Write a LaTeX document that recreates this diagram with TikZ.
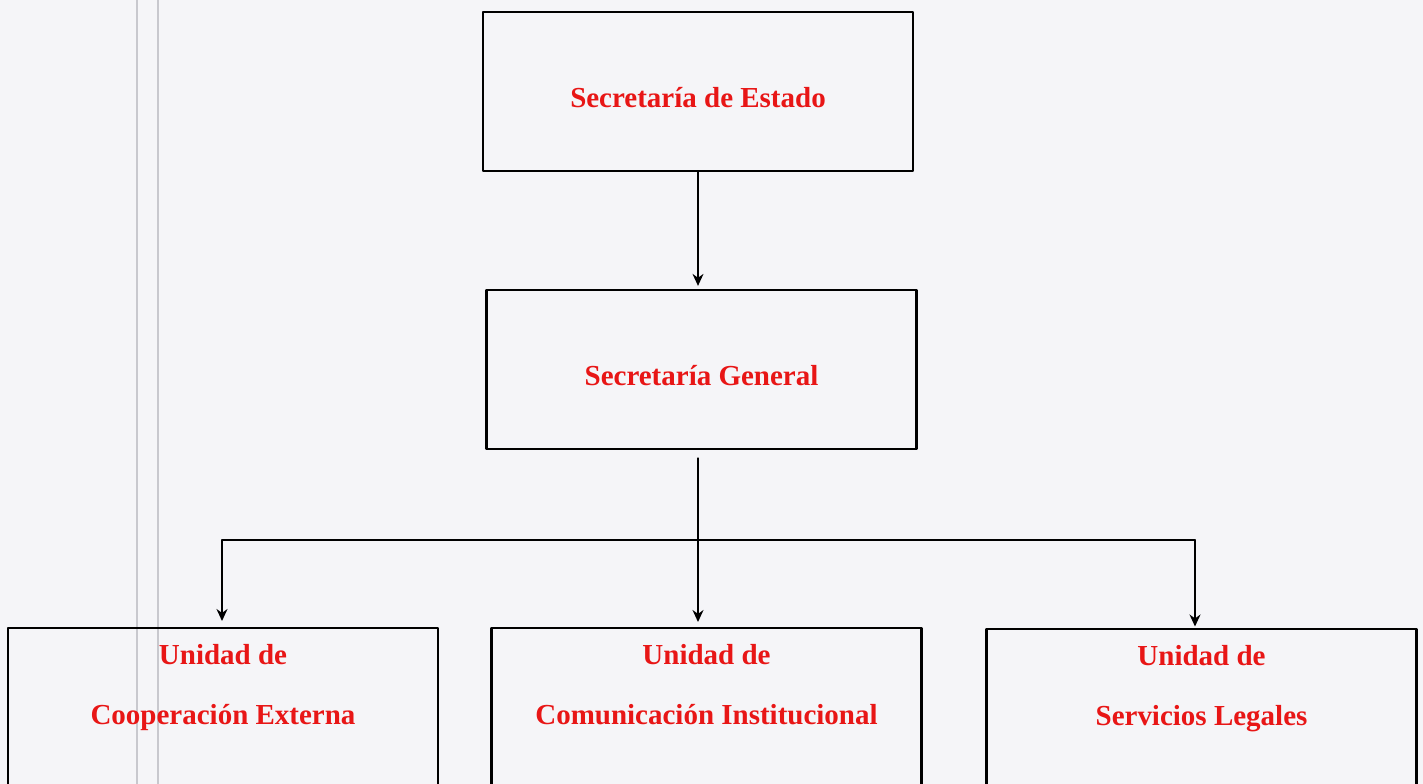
\documentclass[tikz,border=0pt]{standalone}
\usepackage{fontspec}
\setmainfont{Liberation Serif}
\usetikzlibrary{arrows.meta,positioning}
\definecolor{paper}{RGB}{245,245,248}
\definecolor{binder}{RGB}{200,200,206}
\definecolor{orgred}{RGB}{232,22,22}
\begin{document}
\begin{tikzpicture}[line cap=round,line join=round,>={Stealth[length=0.24cm,width=0.22cm]},x=0.02cm,y=-0.02cm,
		orgbox/.style={draw=black,line width=1.3pt,rectangle,minimum width=8.6cm,inner sep=0pt},
		orgtext/.style={text=orgred,inner sep=0pt,align=center,font=\fontsize{16.5}{34}\selectfont\bfseries},
		link/.style={line width=0.9pt}]
		\useasboundingbox (0,0) rectangle (1423,784);
		\clip (0,0) rectangle (1423,784);
		\fill[paper] (0,0) rectangle (1423,784);
		\draw[binder,line width=1.2pt] (137,0) -- (137,784);
		\draw[binder,line width=1.2pt] (158,0) -- (158,784);
		% boxes
		\node[orgbox,minimum height=3.18cm] (sest) at (698,91.5) {};
		\node[orgbox,minimum height=3.18cm] (sgen) at (701.5,369.5) {};
		\node[orgbox,minimum height=4cm,anchor=north] (coop) at (223,627) {};
		\node[orgbox,minimum height=4cm,anchor=north] (comm) at (706.5,627) {};
		\node[orgbox,minimum height=4cm,anchor=north] (serv) at (1201.5,628) {};
		% texts
		\node[orgtext] (sestT) at ([yshift=-0.13cm]sest.center) {Secretaría de Estado};
		\node[orgtext] (sgenT) at ([yshift=-0.13cm]sgen.center) {Secretaría General};
		\node[orgtext,anchor=north] (coopT) at ([yshift=-0.35cm]coop.north) {Unidad de\\Cooperación Externa};
		\node[orgtext,anchor=north] (commT) at ([yshift=-0.35cm]comm.north) {Unidad de\\Comunicación Institucional};
		\node[orgtext,anchor=north] (servT) at ([yshift=-0.35cm]serv.north) {Unidad de\\Servicios Legales};
		% connectors
		\coordinate (busL) at (222,540);
		\coordinate (busM) at (698,540);
		\coordinate (busR) at (1195,540);
		\draw[link,->,shorten >=0.06cm] (sest.south -| busM) -- (sgen.north -| busM);
		\draw[link,->,shorten <=0.16cm,shorten >=0.1cm] (sgen.south -| busM) -- (comm.north -| busM);
		\draw[link] (busL) -- (busR);
		\draw[link,->,shorten >=0.12cm] (busL) -- (coop.north -| busL);
		\draw[link,->,shorten >=0.03cm] (busR) -- (serv.north -| busR);
\end{tikzpicture}
\end{document}
